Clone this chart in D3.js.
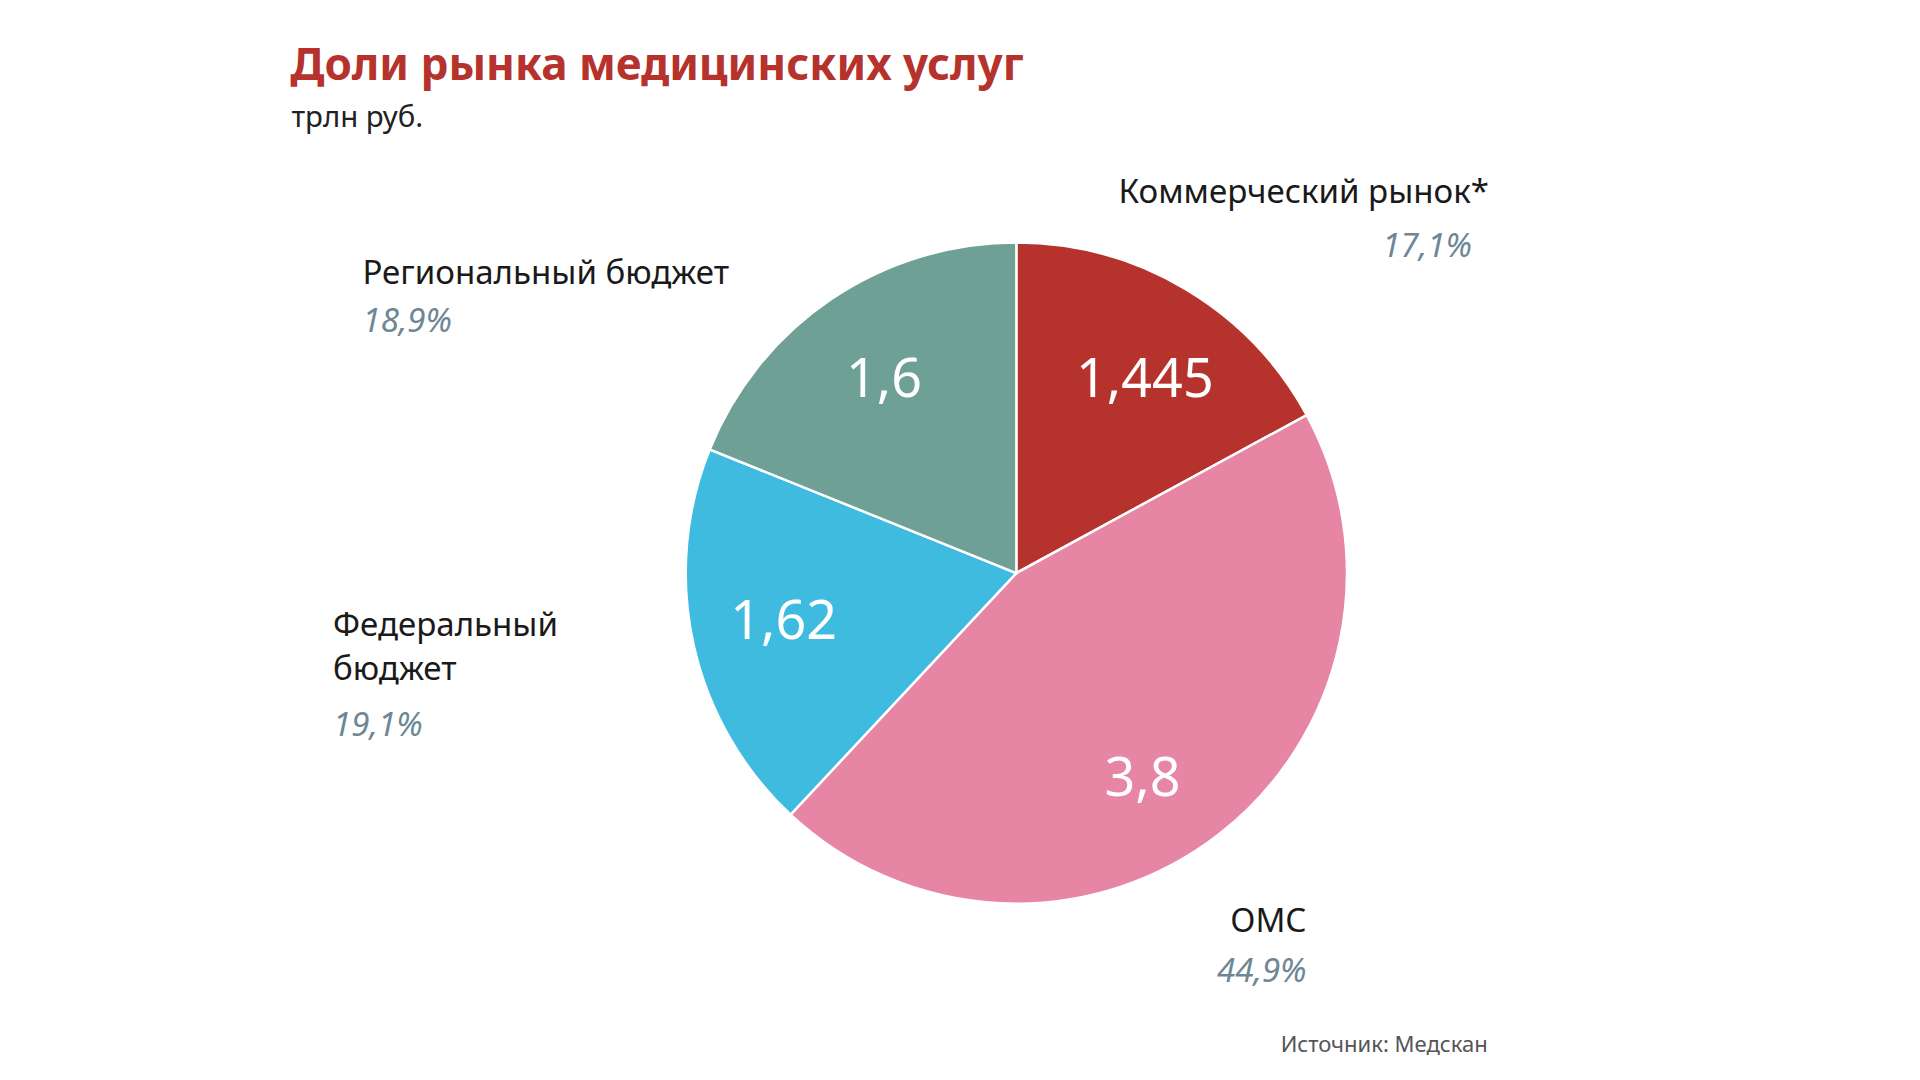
<!DOCTYPE html>
<html><head><meta charset="utf-8">
<script src="https://cdn.jsdelivr.net/npm/d3@7"></script>
<style>html,body{margin:0;background:#fff;overflow:hidden}svg{display:block;font-family:"Noto Sans",sans-serif}</style>
</head><body><svg id="chart" width="1920" height="1080" viewBox="0 0 1568 882"></svg>
<script>
const names = ['Коммерческий рынок*', 'ОМС', 'Федеральный бюджет', 'Региональный бюджет'];
const values = [1.445, 3.8, 1.62, 1.6];
const valueLabels = ['1,445', '3,8', '1,62', '1,6'];
const shares = ['17,1%', '44,9%', '19,1%', '18,9%'];
const colors = ['#b5322d', '#e785a4', '#40bbe0', '#6fa096'];

const svg = d3.select('#chart');
const cx = 830, cy = 468, r = 270;

svg.append('text').attr('x', 237).attr('y', 65).attr('fill', '#b5322d')
   .attr('font-size', 36).attr('font-weight', 700).text('Доли рынка медицинских услуг');
svg.append('text').attr('x', 238).attr('y', 104).attr('fill', '#222')
   .attr('font-size', 24).text('трлн руб.');
svg.append('text').attr('x', 1215).attr('y', 859).attr('text-anchor', 'end').attr('fill', '#555')
   .attr('font-size', 18).text('Источник: Медскан');

const pie = d3.pie().sort(null).value(d => d)(values);
const arc = d3.arc().innerRadius(0).outerRadius(r);
const g = svg.append('g').attr('transform', `translate(${cx},${cy})`);
g.selectAll('path').data(pie).enter().append('path')
 .attr('d', arc).attr('fill', (d, i) => colors[i])
 .attr('stroke', '#fff').attr('stroke-width', 2);

const labelArc = d3.arc().innerRadius(r * 0.62).outerRadius(r * 0.62);
const inner = [[105, -160], [103, 166], [-190, 38], [-108, -160]];
g.selectAll('.val').data(pie).enter().append('text')
 .attr('x', (d, i) => inner[i][0]).attr('y', (d, i) => inner[i][1] + 16)
 .attr('text-anchor', 'middle').attr('fill', '#fff').attr('font-size', 44)
 .text((d, i) => valueLabels[i]);

// outer labels: [x, y, anchor, lines, shareY]
const outer = [
  { x: 1216, y: 166, a: 'end', lines: ['Коммерческий рынок*'], sx: 1202, sy: 210 },
  { x: 1067, y: 761, a: 'end', lines: ['ОМС'], sx: 1067, sy: 802 },
  { x: 272, y: 519, a: 'start', lines: ['Федеральный', 'бюджет'], sx: 272, sy: 601 },
  { x: 296, y: 232, a: 'start', lines: ['Региональный бюджет'], sx: 296, sy: 271 }
];
outer.forEach((o, i) => {
  o.lines.forEach((l, j) => svg.append('text').attr('x', o.x).attr('y', o.y + j * 36)
    .attr('text-anchor', o.a).attr('fill', '#1a1a1a').attr('font-size', 27).text(l));
  svg.append('text').attr('x', o.sx).attr('y', o.sy).attr('text-anchor', o.a)
    .attr('fill', '#6d8796').attr('font-size', 27).attr('font-style', 'italic').text(shares[i]);
});
</script></body></html>
